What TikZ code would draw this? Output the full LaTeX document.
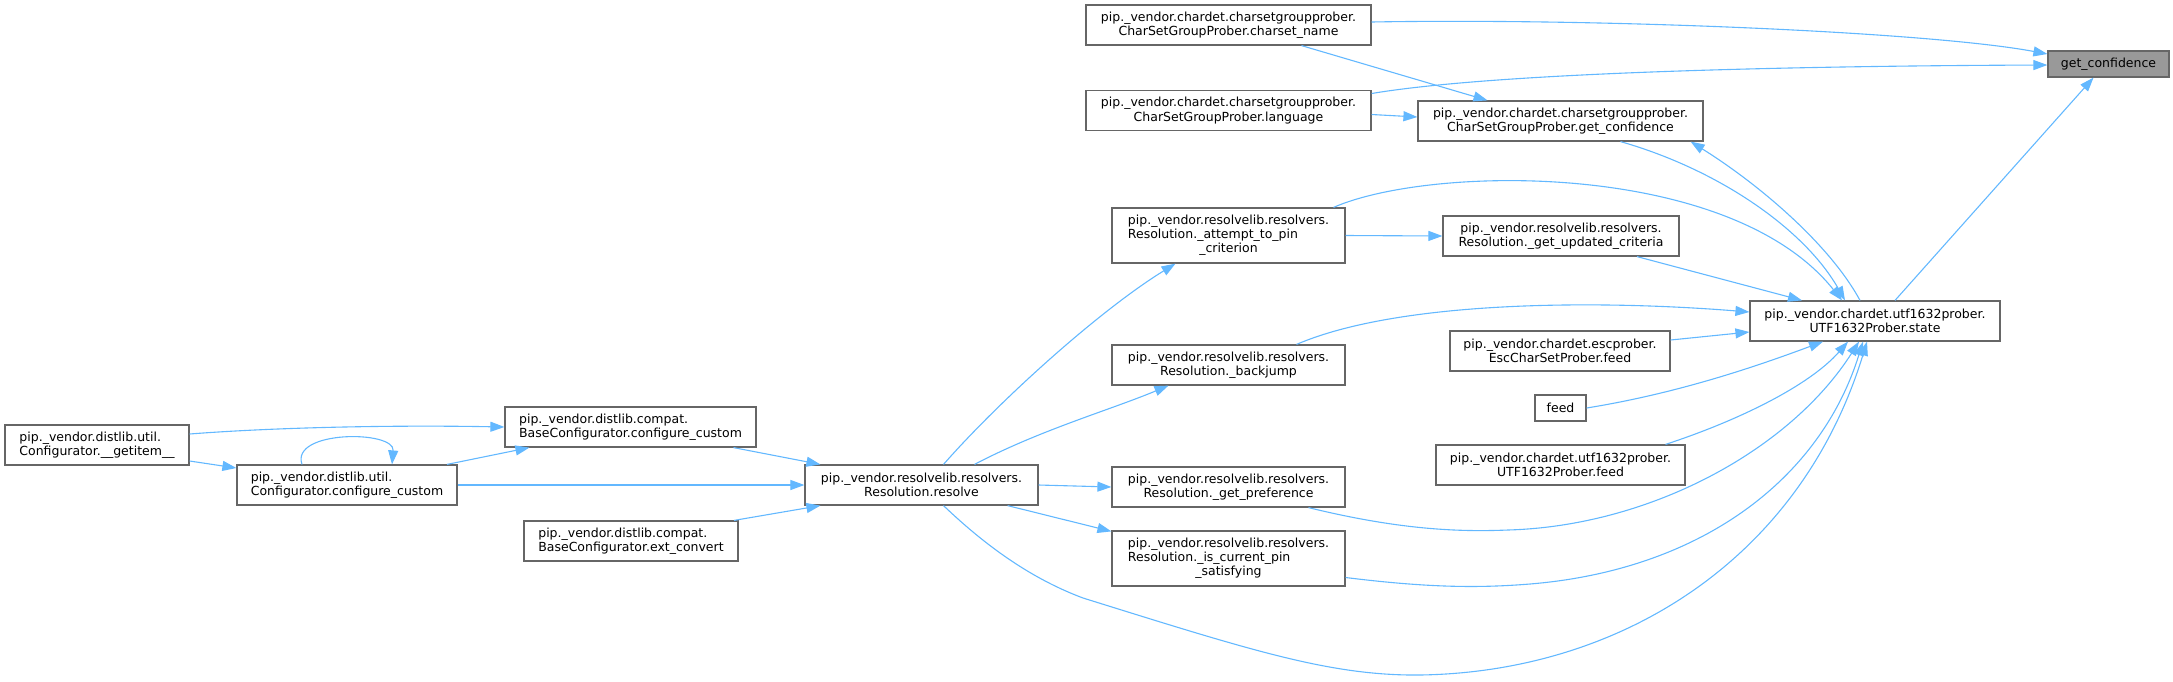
\documentclass[tikz,border=0pt]{standalone}
\usepackage{fontspec}
\setmainfont{DejaVu Sans}
\usetikzlibrary{arrows.meta, calc}
\definecolor{dxedge}{HTML}{63B8FF}
\definecolor{dxborder}{HTML}{666666}
\definecolor{dxroot}{HTML}{999999}

\begin{document}
\begin{tikzpicture}[
    x=0.5pt, y=-0.5pt,
    font=\fontsize{6.25}{7.15}\selectfont,
    func/.style={
        draw=dxborder, fill=white, line width=0.6pt,
        rectangle, inner sep=0pt, align=center,
    },
    root/.style={
        func, fill=dxroot,
    },
    arrow/.style={-{Triangle[length=7pt, width=5pt]}, line width=0.55pt, draw=dxedge},
]
\useasboundingbox (0,0) rectangle (2173,681);

% ===== Right column: get_confidence and its callers =====
\node[root, minimum width=60.5pt, minimum height=13pt] (gc) at (2108.5,64) {get\_confidence};
\node[func, minimum width=142.5pt, minimum height=20pt] (csn) at (1228.5,25)
    {pip.\_vendor.chardet.charsetgroupprober.\\CharSetGroupProber.charset\_name};
\node[func, minimum width=142.5pt, minimum height=20pt] (lang) at (1228.5,110.5)
    {pip.\_vendor.chardet.charsetgroupprober.\\CharSetGroupProber.language};
\node[func, minimum width=142.5pt, minimum height=20pt] (csgp) at (1560.5,121)
    {pip.\_vendor.chardet.charsetgroupprober.\\CharSetGroupProber.get\_confidence};
\node[func, minimum width=125pt, minimum height=20pt] (state) at (1875,321)
    {pip.\_vendor.chardet.utf1632prober.\\UTF1632Prober.state};

% ===== Middle column =====
\node[func, minimum width=118pt, minimum height=20pt] (guc) at (1561,236)
    {pip.\_vendor.resolvelib.resolvers.\\Resolution.\_get\_updated\_criteria};
\node[func, minimum width=110pt, minimum height=20pt] (escfeed) at (1560,351)
    {pip.\_vendor.chardet.escprober.\\EscCharSetProber.feed};
\node[func, minimum width=25.5pt, minimum height=13pt] (feed) at (1560.5,408) {feed};
\node[func, minimum width=124.5pt, minimum height=20pt] (utffeed) at (1560.5,465)
    {pip.\_vendor.chardet.utf1632prober.\\UTF1632Prober.feed};

% ===== Resolution methods =====
\node[func, minimum width=116.5pt, minimum height=27.5pt] (atp) at (1228.5,235.5)
    {\begin{tabular}{@{}l@{}}pip.\_vendor.resolvelib.resolvers.\\Resolution.\_attempt\_to\_pin\\\multicolumn{1}{@{}c@{}}{\_criterion}\end{tabular}};
\node[func, minimum width=116.5pt, minimum height=20pt] (backjump) at (1228.5,365)
    {pip.\_vendor.resolvelib.resolvers.\\Resolution.\_backjump};
\node[func, minimum width=116.5pt, minimum height=20pt] (getpref) at (1228.5,487)
    {pip.\_vendor.resolvelib.resolvers.\\Resolution.\_get\_preference};
\node[func, minimum width=116.5pt, minimum height=27.5pt] (iscur) at (1228.5,558.5)
    {\begin{tabular}{@{}l@{}}pip.\_vendor.resolvelib.resolvers.\\Resolution.\_is\_current\_pin\\\multicolumn{1}{@{}c@{}}{\_satisfying}\end{tabular}};
\node[func, minimum width=116.5pt, minimum height=20pt] (resolve) at (921.5,485)
    {pip.\_vendor.resolvelib.resolvers.\\Resolution.resolve};

% ===== Left side: distlib configurators =====
\node[func, align=left, minimum width=125.5pt, minimum height=20pt] (basecc) at (630.5,427)
    {pip.\_vendor.distlib.compat.\\BaseConfigurator.configure\_custom};
\node[func, align=left, minimum width=110pt, minimum height=20pt] (cc) at (347,485)
    {pip.\_vendor.distlib.util.\\Configurator.configure\_custom};
\node[func, align=left, minimum width=107pt, minimum height=20pt] (extconv) at (631,541)
    {pip.\_vendor.distlib.compat.\\BaseConfigurator.ext\_convert};
\node[func, align=left, minimum width=92pt, minimum height=20pt] (getitem) at (97,445)
    {pip.\_vendor.distlib.util.\\Configurator.\_\_getitem\_\_};

% ===== Arrows into get_confidence =====
\draw[arrow] ($(csn.east)+(0,-3)$) .. controls (1600,18) and (1930,32) .. ($(gc.west)+(0,-10)$);
\draw[arrow] ($(lang.east)+(0,-17)$) .. controls (1500,72) and (1800,66) .. ($(gc.west)+(0,1)$);
\draw[arrow] ($(state.north)+(20,0)$) -- ($(gc.south)+(-15,0)$);

% ===== Arrows into CharSetGroupProber.get_confidence =====
\draw[arrow] ($(csn.south)+(73,0)$) -- ($(csgp.north)+(-73,0)$);
\draw[arrow] ($(lang.east)+(0,4)$) -- ($(csgp.west)+(0,-4)$);
\draw[arrow] ($(state.north)+(-15,0)$) .. controls (1830,245) and (1760,185) .. ($(csgp.south east)+(-13,0)$);

% ===== Arrows into UTF1632Prober.state =====
\draw[arrow] ($(csgp.south)+(60,0)$) .. controls (1720,170) and (1805,230) .. ($(state.north)+(-30,0)$);
\draw[arrow] ($(atp.north)+(105,0)$) .. controls (1430,165) and (1730,160) .. ($(state.north)+(-33,0)$);
\draw[arrow] ($(guc.south)+(76,0)$) -- ($(state.north)+(-73,0)$);
\draw[arrow] ($(backjump.north)+(68,0)$) .. controls (1400,300) and (1600,300) .. ($(state.west)+(0,-9)$);
\draw[arrow] ($(escfeed.east)+(0,-11)$) -- ($(state.west)+(0,11)$);
\draw[arrow] (feed.east) .. controls (1680,393) and (1760,365) .. ($(state.south)+(-52,0)$);
\draw[arrow] ($(utffeed.north)+(105,0)$) .. controls (1740,420) and (1810,385) .. ($(state.south)+(-27,0)$);
\draw[arrow] ($(getpref.south)+(80,0)$) .. controls (1400,530) and (1460,532) .. (1508,530)
    .. controls (1650,526) and (1790,450) .. ($(state.south)+(-16,0)$);
\draw[arrow] ($(iscur.east)+(0,19)$) .. controls (1430,588) and (1480,588) .. (1530,584)
    .. controls (1700,570) and (1820,480) .. ($(state.south)+(-12,0)$);
\draw[arrow] ($(resolve.south)+(22,0)$) .. controls (990,550) and (1035,580) .. (1083,598)
    .. controls (1250,650) and (1330,676) .. (1420,675)
    .. controls (1620,672) and (1800,560) .. ($(state.south)+(-8,0)$);

% ===== Resolution.resolve -> helpers =====
\draw[arrow] (atp.east) -- (guc.west);
\draw[arrow] ($(resolve.north)+(22,0)$) .. controls (1000,400) and (1100,310) .. ($(atp.south)+(-53,0)$);
\draw[arrow] ($(resolve.north)+(53,0)$) .. controls (1040,430) and (1110,410) .. ($(backjump.south)+(-60,0)$);
\draw[arrow] (resolve.east) -- (getpref.west);
\draw[arrow] ($(resolve.south east)+(-31,0)$) -- ($(iscur.north west)+(0,1)$);

% ===== Configurators -> Resolution.resolve =====
\draw[arrow] ($(basecc.south)+(103,0)$) -- ($(resolve.north west)+(16,0)$);
\draw[arrow] (cc.east) -- (resolve.west);
\draw[arrow] ($(extconv.north)+(103,0)$) -- ($(resolve.south west)+(16,0)$);
\draw[arrow] ($(cc.north)+(100,0)$) -- ($(basecc.south west)+(25,0)$);
\draw[arrow] ($(cc.north)+(-45,0)$) .. controls (290,430) and (395,430) .. ($(cc.north)+(45,0)$);
\draw[arrow] ($(getitem.east)+(0,-11)$) .. controls (280,427) and (400,425) .. (basecc.west);
\draw[arrow] ($(getitem.east)+(0,16)$) -- ($(cc.west)+(0,-17)$);

\end{tikzpicture}
\end{document}
